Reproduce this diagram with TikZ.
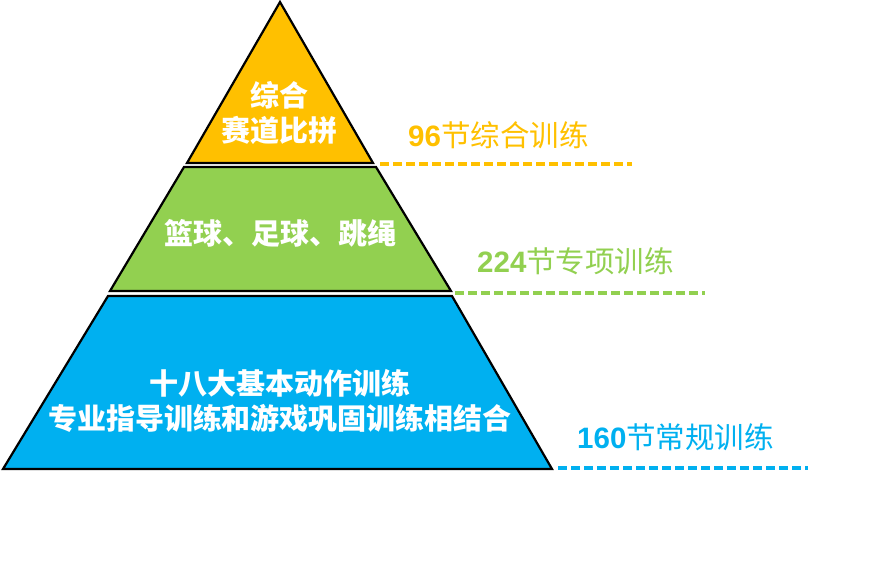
\documentclass[tikz,border=0pt]{standalone}
\usepackage{fontspec}
\setmainfont{Liberation Sans}
\newfontfamily\cjk{Noto Sans CJK SC}

\definecolor{tierTop}{HTML}{FFC000}
\definecolor{tierMid}{HTML}{92D050}
\definecolor{tierLow}{HTML}{00B0F0}

\tikzset{
  tier/.style={draw=black, line width=2.2pt, line join=miter},
  tiertext/.style={text=white, align=center, font=\cjk\bfseries\fontsize{29}{35}\selectfont},
  lesson/.style={anchor=west, inner sep=0pt, font=\cjk\fontsize{29.5}{34}\selectfont},
  guide/.style={line width=3.5pt, dash pattern=on 9pt off 4pt}
}
\newcommand{\num}[1]{{\rmfamily\bfseries #1}}

\begin{document}
\begin{tikzpicture}[x=1pt, y=-1pt]
    \useasboundingbox (0,0) rectangle (892,561);

    % pyramid
    \draw[tier, fill=tierTop] (280,2) -- (373,163) -- (187,163) -- cycle;
    \draw[tier, fill=tierMid] (184,167) -- (376,167) -- (451,291) -- (110,291) -- cycle;
    \draw[tier, fill=tierLow] (108,296) -- (452,296) -- (552,469) -- (3,469) -- cycle;

    \node[tiertext] (top) at (279,113) {综合\\赛道比拼};
    \node[tiertext] (mid) at (280,233) {篮球、足球、跳绳};
    \node[tiertext] (low) at (280,401) {十八大基本动作训练\\专业指导训练和游戏巩固训练相结合};

    % lessons
    \node[lesson, text=tierTop] (topnum) at (408,135) {\num{96}节综合训练};
    \node[lesson, text=tierMid] (midnum) at (477,261) {\num{224}节专项训练};
    \node[lesson, text=tierLow] (lownum) at (577,437) {\num{160}节常规训练};

    \draw[guide, tierTop] (380,164) -- (632,164);
    \draw[guide, tierMid] (455,293) -- (705,293);
    \draw[guide, tierLow] (558,468) -- (808,468);
\end{tikzpicture}
\end{document}
